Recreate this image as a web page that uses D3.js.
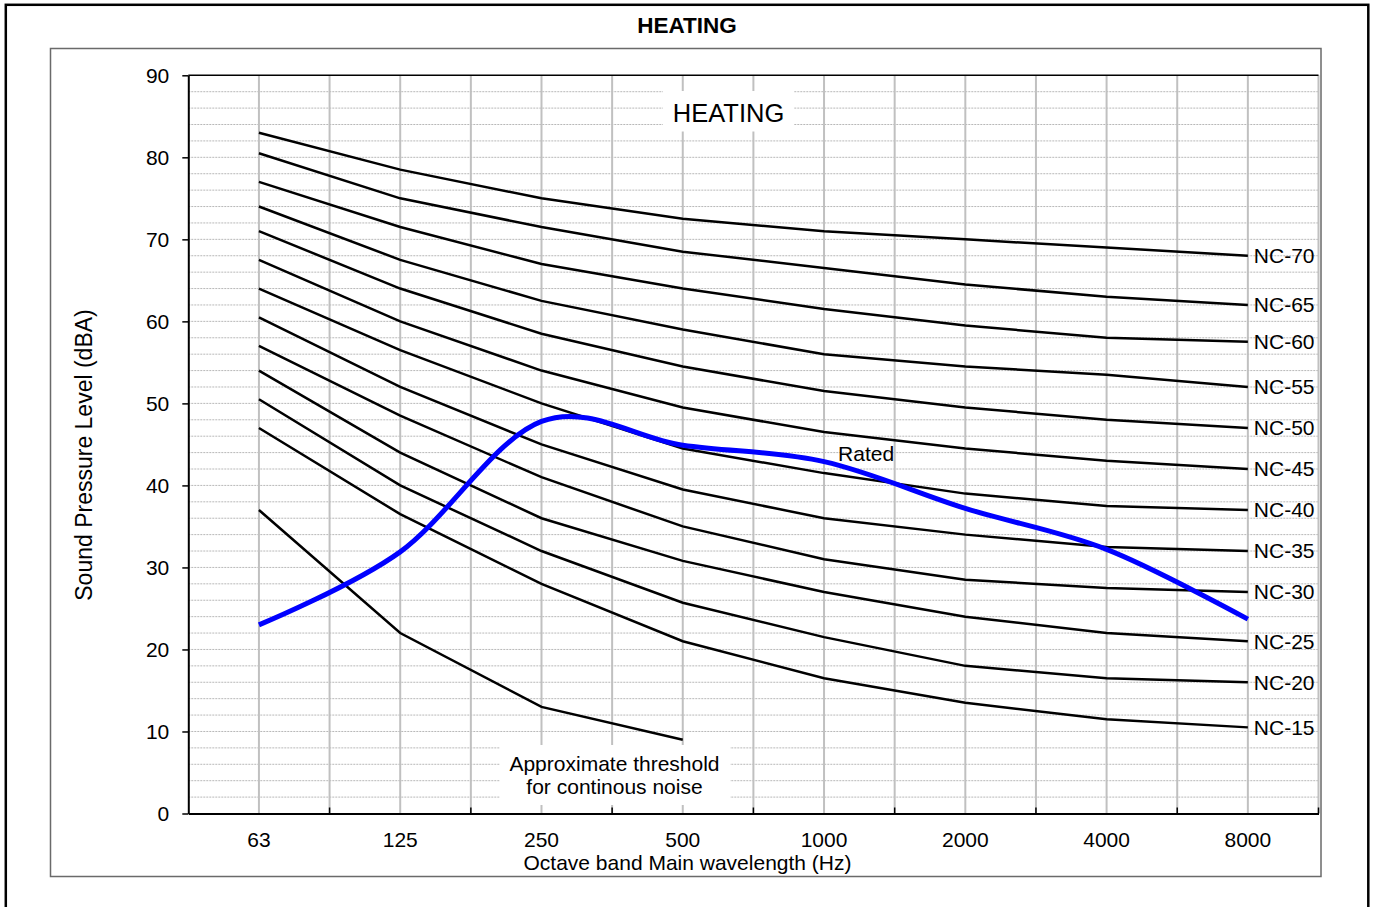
<html>
<head>
<meta charset="utf-8">
<style>
  body { margin: 0; background: #fff; }
  text { font-family: Arial, "Liberation Sans", sans-serif; fill: #000; }
</style>
</head>
<body>
<svg id="chart" width="1375" height="907"></svg>
<script src="https://cdn.jsdelivr.net/npm/d3@7/dist/d3.min.js"></script>
<script>
// octave bands (x categories)
const bands = ["63", "125", "250", "500", "1000", "2000", "4000", "8000"]
const yTicks = [0, 10, 20, 30, 40, 50, 60, 70, 80, 90]

// NC curves
const ncNames = ["NC-70", "NC-65", "NC-60", "NC-55", "NC-50", "NC-45", "NC-40", "NC-35", "NC-30", "NC-25", "NC-20", "NC-15"]
const nc70 = [83, 78.5, 75, 72.5, 71, 70, 69, 68]
const nc65 = [80.5, 75, 71.5, 68.5, 66.5, 64.5, 63, 62]
const nc60 = [77, 71.5, 67, 64, 61.5, 59.5, 58, 57.5]
const nc55 = [74, 67.5, 62.5, 59, 56, 54.5, 53.5, 52]
const nc50 = [71, 64, 58.5, 54.5, 51.5, 49.5, 48, 47]
const nc45 = [67.5, 60, 54, 49.5, 46.5, 44.5, 43, 42]
const nc40 = [64, 56.5, 50, 44.5, 41.5, 39, 37.5, 37]
const nc35 = [60.5, 52, 45, 39.5, 36, 34, 32.5, 32]
const nc30 = [57, 48.5, 41, 35, 31, 28.5, 27.5, 27]
const nc25 = [54, 44, 36, 30.8, 27, 24, 22, 21]
const nc20 = [50.5, 40, 32, 25.7, 21.5, 18, 16.5, 16]
const nc15 = [47, 36.5, 28, 21, 16.5, 13.5, 11.5, 10.5]
const ncCurves = [nc70, nc65, nc60, nc55, nc50, nc45, nc40, nc35, nc30, nc25, nc20, nc15]

// threshold for continuous noise (63..500 only)
const threshold = [37, 22, 13, 9]

// rated unit (blue)
const rated = [23, 31.9, 47.8, 44.9, 42.9, 37.2, 32.2, 23.7]

let svg = d3.select("#chart")

let plotLeft = 188.3, plotRight = 1318.5, plotTop = 75.3, plotBottom = 813.5

let x = d3.scaleBand().domain(bands).range([plotLeft, plotRight]).padding(0)
let bw = x.bandwidth()
let xc = d => x(d) + bw / 2
let y = d3.scaleLinear().domain([0, 90]).range([plotBottom, plotTop])

// outer frame
svg.append("rect")
    .attr("x", 5.8).attr("y", 4.8).attr("width", 1362.5).attr("height", 1000)
    .attr("fill", "none").attr("stroke", "#000").attr("stroke-width", 2.5)

// chart area box
svg.append("rect")
    .attr("x", 50.5).attr("y", 48.5).attr("width", 1270.5).attr("height", 828)
    .attr("fill", "none").attr("stroke", "#6a6a6a").attr("stroke-width", 1.5)

svg.append("text")
    .attr("x", 687).attr("y", 33)
    .attr("text-anchor", "middle")
    .style("font-size", "22.5px").style("font-weight", "bold")
    .text("HEATING")

// horizontal dashed grid every 2 dB
let minor = d3.range(2, 90, 2)
svg.append("g").selectAll("line")
    .data(minor).enter().append("line")
    .attr("x1", plotLeft).attr("x2", plotRight)
    .attr("y1", d => y(d)).attr("y2", d => y(d))
    .attr("stroke", "#b8b8b8").attr("stroke-width", 1)
    .attr("stroke-dasharray", "2,1")

// vertical grid at band centers and band edges
let vlines = []
bands.forEach((b, i) => {
    if (i > 0) vlines.push(x(b))
    vlines.push(xc(b))
})
vlines.push(plotRight)
svg.append("g").selectAll("line")
    .data(vlines).enter().append("line")
    .attr("x1", d => d).attr("x2", d => d)
    .attr("y1", plotTop).attr("y2", plotBottom)
    .attr("stroke", "#c0c0c0").attr("stroke-width", 2)

// plot top border
svg.append("line")
    .attr("x1", plotLeft).attr("x2", plotRight)
    .attr("y1", plotTop).attr("y2", plotTop)
    .attr("stroke", "#000").attr("stroke-width", 1.5)

// text boxes with white fill
svg.append("rect")
    .attr("x", 663).attr("y", 91).attr("width", 131).attr("height", 40.5)
    .attr("fill", "#fff")
svg.append("text")
    .attr("x", 728.5).attr("y", 122.3)
    .attr("text-anchor", "middle")
    .style("font-size", "25.5px")
    .text("HEATING")

svg.append("rect")
    .attr("x", 500).attr("y", 745).attr("width", 230).attr("height", 60)
    .attr("fill", "#fff")
let thr = svg.append("text")
    .attr("text-anchor", "middle")
    .style("font-size", "21px")
thr.append("tspan").attr("x", 614.5).attr("y", 771).text("Approximate threshold")
thr.append("tspan").attr("x", 614.5).attr("y", 794.3).text("for continous noise")

// y axis
let yAxis = svg.append("g")
    .attr("transform", `translate(${plotLeft},0)`)
    .call(d3.axisLeft(y).tickValues(yTicks).tickSize(6).tickSizeOuter(0).tickPadding(13))
yAxis.select(".domain").attr("stroke", "#000").attr("stroke-width", 2)
yAxis.selectAll(".tick line").attr("stroke", "#000").attr("stroke-width", 1.5)
yAxis.selectAll(".tick text")
    .style("font-size", "21px").style("font-family", "Arial, 'Liberation Sans', sans-serif")
    .attr("fill", "#000")

// x axis
let xAxis = svg.append("g")
    .attr("transform", `translate(0,${plotBottom})`)
    .call(d3.axisBottom(x).tickSize(0).tickSizeOuter(0))
xAxis.select(".domain").attr("stroke", "#000").attr("stroke-width", 2)
xAxis.selectAll(".tick text")
    .attr("y", 33.2).attr("dy", null)
    .style("font-size", "21px").style("font-family", "Arial, 'Liberation Sans', sans-serif")
    .attr("fill", "#000")
// small inward ticks at band edges
svg.append("g").selectAll("line")
    .data(bands.slice(1).map(b => x(b)).concat([plotRight]))
    .enter().append("line")
    .attr("x1", d => d).attr("x2", d => d)
    .attr("y1", plotBottom).attr("y2", plotBottom - 6)
    .attr("stroke", "#000").attr("stroke-width", 1.5)

// axis titles
svg.append("text")
    .attr("x", 687.5).attr("y", 870)
    .attr("text-anchor", "middle")
    .style("font-size", "21px")
    .text("Octave band Main wavelength (Hz)")
svg.append("text")
    .attr("transform", "translate(92,455) rotate(-90)")
    .attr("text-anchor", "middle")
    .style("font-size", "23px")
    .text("Sound Pressure Level (dBA)")

// NC curves
let line = d3.line()
    .x((d, i) => xc(bands[i]))
    .y(d => y(d))

svg.append("g").selectAll("path")
    .data(ncCurves).enter().append("path")
    .attr("d", line)
    .attr("fill", "none").attr("stroke", "#000").attr("stroke-width", 2.5)

svg.append("g").selectAll("text")
    .data(ncCurves).enter().append("text")
    .attr("x", xc(bands[7]) + 6)
    .attr("y", d => y(d[7]))
    .attr("dy", "0.35em")
    .style("font-size", "21px")
    .text((d, i) => ncNames[i])

// threshold
svg.append("path")
    .datum(threshold)
    .attr("d", line)
    .attr("fill", "none").attr("stroke", "#000").attr("stroke-width", 2.5)

// rated, smoothed
let smooth = d3.line()
    .x((d, i) => xc(bands[i]))
    .y(d => y(d))
    .curve(d3.curveCardinal.tension(0))
svg.append("path")
    .datum(rated)
    .attr("d", smooth)
    .attr("fill", "none").attr("stroke", "#0000ff").attr("stroke-width", 5)

svg.append("text")
    .attr("x", xc("1000") + 14).attr("y", y(43))
    .style("font-size", "21px")
    .text("Rated")
</script>
</body>
</html>
